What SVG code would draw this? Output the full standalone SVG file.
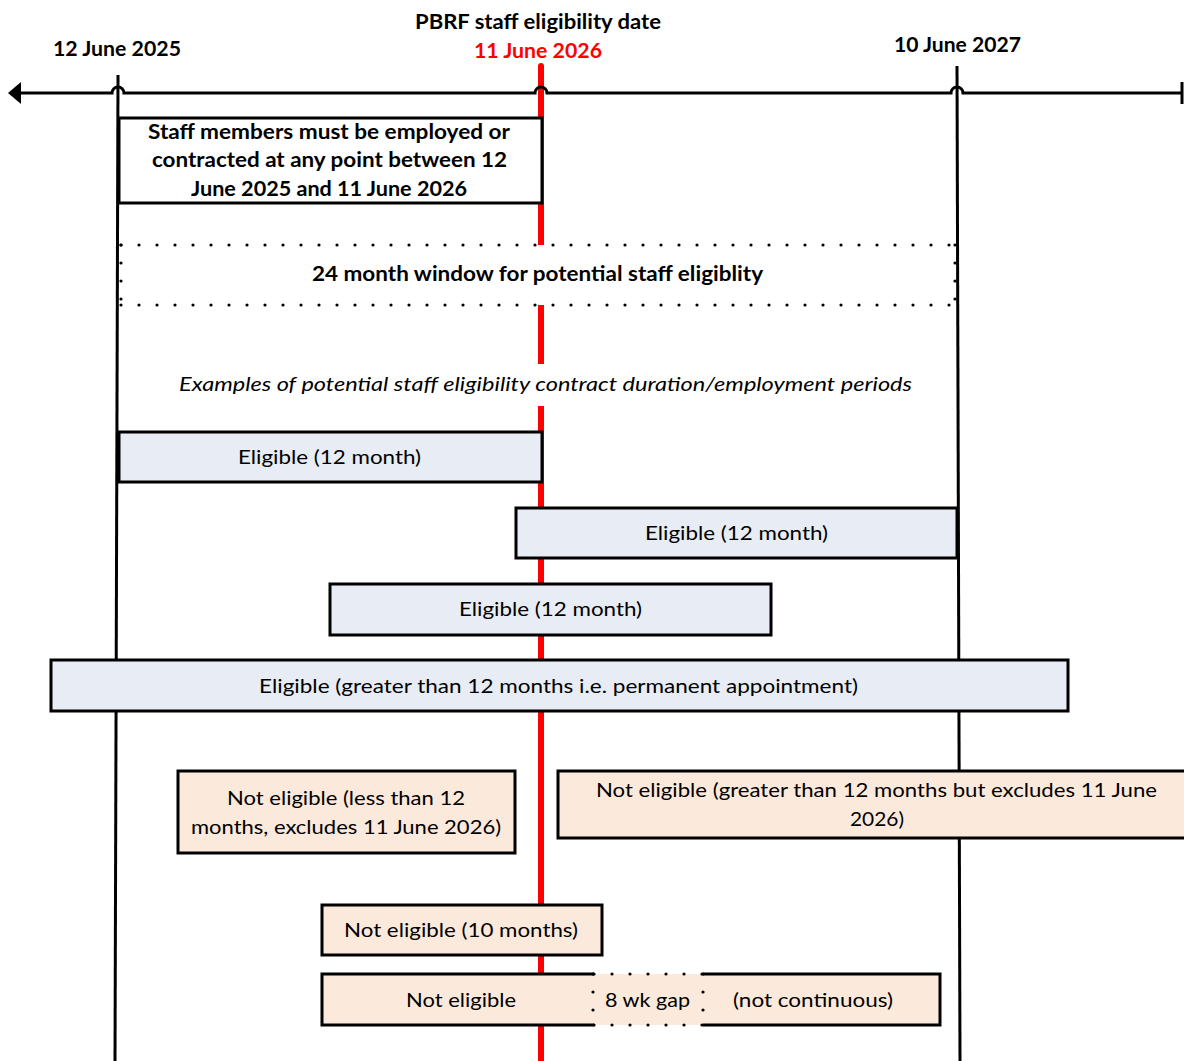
<svg xmlns="http://www.w3.org/2000/svg" width="1184" height="1061" viewBox="0 0 1184 1061">
  <defs>
    <style>
      text { font-family: Lato, "Liberation Sans", sans-serif; fill: #000; }
      .b { font-weight: bold; font-size: 20px; }
      .n { font-size: 20px; }
      .i { font-style: italic; font-size: 20px; }
      .red { fill: #ff0000; }
      .box { stroke: #000; stroke-width: 3; }
      .ok { fill: #e8ecf4; }
      .no { fill: #fbe9dc; }
      .dots { stroke: #000; stroke-width: 3.2; stroke-linecap: round; stroke-dasharray: 0 18; fill: none; }
      .vline { stroke: #000; stroke-width: 3; fill: none; }
    </style>
  </defs>
  <rect width="1184" height="1061" fill="#fff"/>

  <!-- date reference line -->
  <g id="connectors">
    <line x1="541" y1="66" x2="541" y2="1061" stroke="#ff0000" stroke-width="6" stroke-linecap="round"/>
  </g>

  <!-- 24 month window band -->
  <g id="window">
    <rect x="120" y="245" width="837" height="60" fill="#fff"/>
    <line class="dots" x1="121" y1="245" x2="957" y2="245"/>
    <line class="dots" x1="121" y1="305" x2="957" y2="305"/>
    <line class="dots" x1="121" y1="245" x2="121" y2="305"/>
    <line class="dots" x1="955" y1="245" x2="955" y2="305"/>
    <text class="b" x="537.5" y="281" text-anchor="middle" textLength="451" lengthAdjust="spacingAndGlyphs">24 month window for potential staff eligiblity</text>
  </g>

  <!-- timeline axis with hops and boundary lines -->
  <g id="axis">
    <path class="vline" d="M10 93 H112 A6 6 0 0 1 124 93 H535 A6 6 0 0 1 547 93 H951 A6 6 0 0 1 963 93 H1182" stroke-width="4"/>
    <polygon points="8,93 21,82 21,104" fill="#000"/>
    <line x1="1182" y1="82" x2="1182" y2="104" stroke="#000" stroke-width="3"/>
    <line class="vline" x1="118" y1="75" x2="115" y2="1061"/>
    <line class="vline" x1="957" y1="66" x2="960" y2="1061"/>
  </g>

  <g id="labels">
    <text class="b" x="117" y="56" text-anchor="middle" textLength="128" lengthAdjust="spacingAndGlyphs">12 June 2025</text>
    <text class="b" x="538" y="29" text-anchor="middle" textLength="246" lengthAdjust="spacingAndGlyphs">PBRF staff eligibility date</text>
    <text class="b red" x="538" y="58" text-anchor="middle" textLength="128" lengthAdjust="spacingAndGlyphs">11 June 2026</text>
    <text class="b" x="957.5" y="52" text-anchor="middle" textLength="127" lengthAdjust="spacingAndGlyphs">10 June 2027</text>
    <!-- caption sits on a white panel that hides the date line -->
    <rect x="170" y="364" width="750" height="42" fill="#fff"/>
    <text class="i" x="545.5" y="391" text-anchor="middle" textLength="733" lengthAdjust="spacingAndGlyphs">Examples of potential staff eligibility contract duration/employment periods</text>
  </g>

  <g id="rule">
    <rect class="box" x="119" y="118" width="423" height="85" fill="#fff"/>
    <text class="b" x="329" y="139" text-anchor="middle" textLength="362" lengthAdjust="spacingAndGlyphs">Staff members must be employed or</text>
    <text class="b" x="329.5" y="167" text-anchor="middle" textLength="355" lengthAdjust="spacingAndGlyphs">contracted at any point between 12</text>
    <text class="b" x="329" y="196" text-anchor="middle" textLength="276" lengthAdjust="spacingAndGlyphs">June 2025 and 11 June 2026</text>
  </g>

  <g id="eligible-1">
    <rect class="box ok" x="119" y="432" width="423" height="50"/>
    <text class="n" x="329.5" y="464" text-anchor="middle" textLength="183" lengthAdjust="spacingAndGlyphs">Eligible (12 month)</text>
  </g>
  <g id="eligible-2">
    <rect class="box ok" x="516" y="508" width="441" height="50"/>
    <text class="n" x="736.5" y="540" text-anchor="middle" textLength="183" lengthAdjust="spacingAndGlyphs">Eligible (12 month)</text>
  </g>
  <g id="eligible-3">
    <rect class="box ok" x="330" y="584" width="441" height="51"/>
    <text class="n" x="550.5" y="616" text-anchor="middle" textLength="183" lengthAdjust="spacingAndGlyphs">Eligible (12 month)</text>
  </g>
  <g id="eligible-4">
    <rect class="box ok" x="51" y="660" width="1017" height="51"/>
    <text class="n" x="558.5" y="693" text-anchor="middle" textLength="599" lengthAdjust="spacingAndGlyphs">Eligible (greater than 12 months i.e. permanent appointment)</text>
  </g>

  <g id="not-eligible-1">
    <rect class="box no" x="178" y="771" width="337" height="82"/>
    <text class="n" x="346" y="805" text-anchor="middle" textLength="238" lengthAdjust="spacingAndGlyphs">Not eligible (less than 12</text>
    <text class="n" x="346" y="834" text-anchor="middle" textLength="310" lengthAdjust="spacingAndGlyphs">months, excludes 11 June 2026)</text>
  </g>
  <g id="not-eligible-2">
    <rect class="box no" x="558" y="771" width="640" height="67"/>
    <text class="n" x="876.5" y="797" text-anchor="middle" textLength="561" lengthAdjust="spacingAndGlyphs">Not eligible (greater than 12 months but excludes 11 June</text>
    <text class="n" x="877" y="826" text-anchor="middle" textLength="54" lengthAdjust="spacingAndGlyphs">2026)</text>
  </g>
  <g id="not-eligible-3">
    <rect class="box no" x="322" y="905" width="280" height="50"/>
    <text class="n" x="461" y="937" text-anchor="middle" textLength="234" lengthAdjust="spacingAndGlyphs">Not eligible (10 months)</text>
  </g>
  <g id="not-eligible-4">
    <rect x="322" y="974" width="618" height="51" class="no"/>
    <path class="box" fill="none" d="M594 974 H322 V1025 H594 M703 974 H940 V1025 H703"/>
    <line class="dots" x1="594" y1="974" x2="703" y2="974" stroke-width="3" stroke-dasharray="0 18.2"/>
    <line class="dots" x1="594" y1="1025" x2="703" y2="1025" stroke-width="3" stroke-dasharray="0 18.2"/>
    <line class="dots" x1="593" y1="974" x2="593" y2="1025" stroke-width="3" stroke-dasharray="0 17"/>
    <line class="dots" x1="703" y1="974" x2="703" y2="1025" stroke-width="3" stroke-dasharray="0 17"/>
    <text class="n" x="461" y="1007" text-anchor="middle" textLength="110" lengthAdjust="spacingAndGlyphs">Not eligible</text>
    <text class="n" x="647.5" y="1007" text-anchor="middle" textLength="85" lengthAdjust="spacingAndGlyphs">8 wk gap</text>
    <text class="n" x="813" y="1007" text-anchor="middle" textLength="160" lengthAdjust="spacingAndGlyphs">(not continuous)</text>
  </g>
</svg>
